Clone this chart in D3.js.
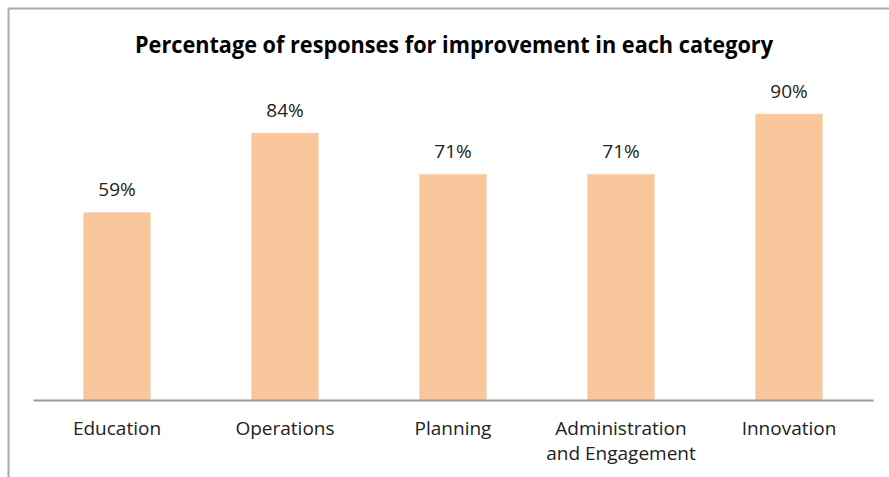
<!DOCTYPE html>
<html><head><meta charset="utf-8">
<script src="https://cdn.jsdelivr.net/npm/d3@7/dist/d3.min.js"></script>
<style>body{margin:0;background:#fff}svg{display:block}</style>
</head><body>
<script>
const title = "Percentage of responses for improvement in each category";
const categories = ["Education", "Operations", "Planning", "Administration and Engagement", "Innovation"];
const categoryLines = [["Education"], ["Operations"], ["Planning"], ["Administration", "and Engagement"], ["Innovation"]];
const values = [59, 84, 71, 71, 90];

const W = 889, H = 477;
const svg = d3.select("body").append("svg").attr("width", W).attr("height", H);
svg.append("rect").attr("width", W).attr("height", H).attr("fill", "#fff");
// frame (top and left visible)
svg.append("line").attr("x1", 8.5).attr("x2", 8.5).attr("y1", 8.5).attr("y2", H).attr("stroke", "#aaa").attr("stroke-width", 2);
svg.append("line").attr("x1", 8.5).attr("x2", W).attr("y1", 8.5).attr("y2", 8.5).attr("stroke", "#aaa").attr("stroke-width", 2);

const x = d3.scaleBand().domain(categories).range([33, 873]).paddingInner(0.6).paddingOuter(0.3);
const y = d3.scaleLinear().domain([0, 100]).range([400, 82]);

svg.append("text").attr("x", 454).attr("y", 53).attr("text-anchor", "middle")
  .attr("font-family", "'Liberation Sans Narrow', 'Open Sans', sans-serif").attr("font-weight", "bold")
  .attr("font-size", 23).attr("textLength", 638).attr("lengthAdjust", "spacingAndGlyphs")
  .attr("fill", "#000").text(title);

svg.selectAll("rect.bar").data(values).join("rect").attr("class", "bar")
  .attr("x", (d, i) => x(categories[i])).attr("width", x.bandwidth())
  .attr("y", d => y(d)).attr("height", d => y(0) - y(d)).attr("fill", "#F9C79B");

svg.selectAll("text.val").data(values).join("text").attr("class", "val")
  .attr("x", (d, i) => x(categories[i]) + x.bandwidth() / 2).attr("y", d => y(d) - 16)
  .attr("text-anchor", "middle").attr("font-family", "'Open Sans', sans-serif").attr("font-size", 19)
  .attr("fill", "#222").text(d => d + "%");

const axis = d3.axisBottom(x).tickSize(0).tickFormat("");
const g = svg.append("g").attr("transform", "translate(0,400)").call(axis);
g.select(".domain").attr("stroke", "#999").attr("stroke-width", 2);

categoryLines.forEach((lines, i) => {
  const t = svg.append("text").attr("x", x(categories[i]) + x.bandwidth() / 2).attr("y", 435)
    .attr("text-anchor", "middle").attr("font-family", "'Open Sans', sans-serif").attr("font-size", 19).attr("fill", "#222");
  lines.forEach((l, j) => t.append("tspan").attr("x", x(categories[i]) + x.bandwidth() / 2).attr("dy", j ? 25 : 0).text(l));
});
</script>
</body></html>
